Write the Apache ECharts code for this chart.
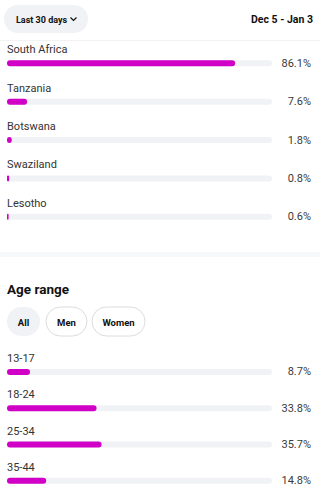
<!DOCTYPE html>
<html>
<head>
<meta charset="utf-8">
<script src="https://cdn.jsdelivr.net/npm/echarts@6/dist/echarts.min.js"></script>
<style>
  html, body { margin: 0; padding: 0; background: #fff; }
  #main { width: 320px; height: 499px; }
</style>
</head>
<body>
<div id="main"></div>
<script>
// 国家分布
var countryNames = ['South Africa', 'Tanzania', 'Botswana', 'Swaziland', 'Lesotho']
var countryValues = [86.1, 7.6, 1.8, 0.8, 0.6]
// 年龄分布
var ageNames = ['13-17', '18-24', '25-34', '35-44']
var ageValues = [8.7, 33.8, 35.7, 14.8]
var ageTabs = ['All', 'Men', 'Women']

var FILL = '#d000c6'
var TRACK = '#f1f2f6'
var FONT = 'Roboto, "Noto Sans", sans-serif'

var chart = echarts.init(document.getElementById('main'), null, { renderer: 'svg' })

function pct (v) { return v.toFixed(1) + '%' }

// 左侧类目轴（名称在条形上方）
function nameAxis (gridIndex, names) {
  return {
    gridIndex: gridIndex,
    type: 'category',
    inverse: true,
    data: names,
    axisLine: { show: false },
    axisTick: { show: false },
    axisLabel: {
      inside: true,
      margin: 0,
      color: '#333',
      fontSize: 11,
      fontFamily: FONT,
      verticalAlign: 'bottom',
      padding: [0, 0, 8, 0]
    }
  }
}

// 右侧百分比
function valueAxis (gridIndex, values) {
  return {
    gridIndex: gridIndex,
    type: 'category',
    position: 'right',
    inverse: true,
    data: values.map(pct),
    axisLine: { show: false },
    axisTick: { show: false },
    axisLabel: {
      margin: 39,
      align: 'right',
      color: '#3a3a3a',
      fontSize: 11,
      fontFamily: FONT,
      verticalAlign: 'middle',
      padding: [3, 0, 0, 0]
    }
  }
}

function barSeries (idx, values) {
  return {
    type: 'bar',
    xAxisIndex: idx,
    yAxisIndex: idx * 2,
    data: values,
    barWidth: 6,
    itemStyle: { color: FILL, borderRadius: 3 },
    showBackground: true,
    backgroundStyle: { color: TRACK, borderRadius: 3 },
    silent: true
  }
}

function pill (x, w, label, active) {
  return {
    type: 'group',
    children: [
      {
        type: 'rect',
        shape: { x: x, y: 307, width: w, height: 29, r: 14.5 },
        style: active ? { fill: '#f0f2f5' } : { fill: '#fff', stroke: '#dcdcdc', lineWidth: 1 }
      },
      {
        type: 'text',
        x: x + w / 2,
        y: 322,
        style: { text: label, fill: '#111', font: 'bold 9.5px ' + FONT, textAlign: 'center', textVerticalAlign: 'middle' }
      }
    ]
  }
}

var option = {
  backgroundColor: '#fff',
  animation: false,
  grid: [
    { left: 7, right: 48, top: 44.2, height: 191.7 },
    { left: 7, right: 48, top: 353.8, height: 153.6 }
  ],
  xAxis: [
    { gridIndex: 0, type: 'value', min: 0, max: 100, show: false },
    { gridIndex: 1, type: 'value', min: 0, max: 100, show: false }
  ],
  yAxis: [
    nameAxis(0, countryNames),
    valueAxis(0, countryValues),
    nameAxis(1, ageNames),
    valueAxis(1, ageValues)
  ],
  series: [
    barSeries(0, countryValues),
    barSeries(1, ageValues)
  ],
  graphic: [
    // 顶部按钮
    { type: 'rect', shape: { x: 4, y: 5, width: 84, height: 28, r: 14 }, style: { fill: '#f0f2f5' } },
    { type: 'text', x: 16, y: 19.5, style: { text: 'Last 30 days', fill: '#111', font: 'bold 9px ' + FONT, textVerticalAlign: 'middle' } },
    { type: 'polyline', shape: { points: [[70.5, 17.5], [73.5, 20.5], [76.5, 17.5]] }, style: { stroke: '#111', lineWidth: 1.2, fill: null } },
    { type: 'text', x: 313, y: 19.5, style: { text: 'Dec 5 - Jan 3', fill: '#111', font: 'bold 10.5px ' + FONT, textAlign: 'right', textVerticalAlign: 'middle' } },
    { type: 'rect', shape: { x: 0, y: 40, width: 320, height: 1 }, style: { fill: '#f2f2f2' } },
    // 分隔带
    { type: 'rect', shape: { x: 0, y: 252, width: 320, height: 5 }, style: { fill: '#f7f8fa' } },
    { type: 'text', x: 7, y: 289, style: { text: 'Age range', fill: '#111', font: 'bold 13.5px ' + FONT, textVerticalAlign: 'middle' } },
    pill(7, 33, ageTabs[0], true),
    pill(46, 41, ageTabs[1], false),
    pill(92, 53, ageTabs[2], false)
  ]
}

chart.setOption(option)
</script>
</body>
</html>
